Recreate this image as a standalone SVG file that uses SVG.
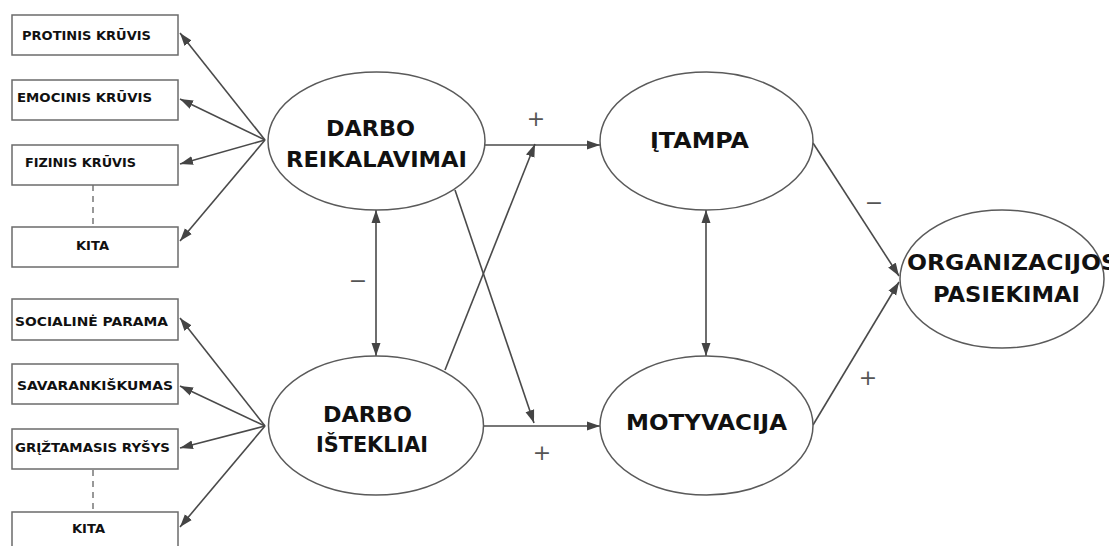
<svg xmlns="http://www.w3.org/2000/svg" width="1109" height="546" viewBox="0 0 1109 546">
<style>
.box{fill:#fff;stroke:#6b6b6b;stroke-width:1.5}
.ell{fill:#fff;stroke:#5a5a5a;stroke-width:1.5}
.bt{font-family:"DejaVu Sans","Liberation Sans",sans-serif;font-weight:bold;font-size:12.5px;fill:#111}
.et{font-family:"DejaVu Sans","Liberation Sans",sans-serif;font-weight:bold;font-size:22px;fill:#111}
.sg{font-family:"DejaVu Sans","Liberation Sans",sans-serif;font-size:22px;fill:#555;text-anchor:middle}
.ln{stroke:#4a4a4a;stroke-width:1.6;fill:none}
.ds{stroke:#777;stroke-width:1.5;stroke-dasharray:6,5;fill:none}
</style>
<defs>
<marker id="ah" markerUnits="userSpaceOnUse" markerWidth="14" markerHeight="10" refX="13" refY="5" orient="auto-start-reverse">
<path d="M0,0.5 L13,5 L0,9.5 z" fill="#444"/>
</marker>
</defs>
<rect width="1109" height="546" fill="#fff"/>

<g id="connectors">
<line class="ln" x1="265" y1="140" x2="180" y2="33" marker-end="url(#ah)"/>
<line class="ln" x1="265" y1="140" x2="180" y2="99" marker-end="url(#ah)"/>
<line class="ln" x1="265" y1="140" x2="180" y2="164" marker-end="url(#ah)"/>
<line class="ln" x1="265" y1="140" x2="180" y2="241" marker-end="url(#ah)"/>
<line class="ln" x1="265" y1="426" x2="180" y2="318" marker-end="url(#ah)"/>
<line class="ln" x1="265" y1="426" x2="180" y2="386" marker-end="url(#ah)"/>
<line class="ln" x1="265" y1="426" x2="180" y2="448" marker-end="url(#ah)"/>
<line class="ln" x1="265" y1="426" x2="180" y2="527" marker-end="url(#ah)"/>
<line class="ds" x1="93" y1="185" x2="93" y2="227"/>
<line class="ds" x1="93" y1="470" x2="93" y2="512"/>
<line class="ln" x1="485" y1="145" x2="600" y2="145" marker-end="url(#ah)"/>
<line class="ln" x1="483" y1="426" x2="600" y2="426" marker-end="url(#ah)"/>
<line class="ln" x1="445" y1="370" x2="535" y2="144" marker-end="url(#ah)"/>
<line class="ln" x1="455" y1="190" x2="534" y2="423" marker-end="url(#ah)"/>
<line class="ln" x1="376" y1="210" x2="376" y2="356" marker-start="url(#ah)" marker-end="url(#ah)"/>
<line class="ln" x1="706" y1="210" x2="706" y2="356" marker-start="url(#ah)" marker-end="url(#ah)"/>
<line class="ln" x1="813" y1="143" x2="899" y2="276" marker-end="url(#ah)"/>
<line class="ln" x1="813" y1="425" x2="899" y2="282" marker-end="url(#ah)"/>
<text class="sg" x="536" y="126">+</text>
<text class="sg" x="542" y="460">+</text>
<text class="sg" x="358" y="288">−</text>
<text class="sg" x="874" y="210">−</text>
<text class="sg" x="868" y="385">+</text>
</g>

<g id="protinis"><rect class="box" x="12" y="15" width="166" height="40"/><text class="bt" x="22" y="39.5" textLength="129" lengthAdjust="spacingAndGlyphs">PROTINIS KRŪVIS</text></g>
<g id="emocinis"><rect class="box" x="12" y="80" width="166" height="40"/><text class="bt" x="17" y="102" textLength="135" lengthAdjust="spacingAndGlyphs">EMOCINIS KRŪVIS</text></g>
<g id="fizinis"><rect class="box" x="12" y="145" width="166" height="40"/><text class="bt" x="25" y="167" textLength="111" lengthAdjust="spacingAndGlyphs">FIZINIS KRŪVIS</text></g>
<g id="kita1"><rect class="box" x="12" y="227" width="166" height="40"/><text class="bt" x="76" y="250" textLength="33" lengthAdjust="spacingAndGlyphs">KITA</text></g>
<g id="socialine"><rect class="box" x="12" y="299" width="166" height="41"/><text class="bt" x="15" y="326" textLength="153" lengthAdjust="spacingAndGlyphs">SOCIALINĖ PARAMA</text></g>
<g id="savarankiskumas"><rect class="box" x="12" y="364" width="166" height="40"/><text class="bt" x="17" y="390" textLength="156" lengthAdjust="spacingAndGlyphs">SAVARANKIŠKUMAS</text></g>
<g id="grizt"><rect class="box" x="12" y="429" width="166" height="40"/><text class="bt" x="15" y="452" textLength="155" lengthAdjust="spacingAndGlyphs">GRĮŽTAMASIS RYŠYS</text></g>
<g id="kita2"><rect class="box" x="12" y="512" width="166" height="42"/><text class="bt" x="72" y="533" textLength="33" lengthAdjust="spacingAndGlyphs">KITA</text></g>

<g id="darbo-reik"><ellipse class="ell" cx="376.5" cy="141" rx="108.5" ry="69"/><text class="et" x="326" y="136" textLength="89" lengthAdjust="spacingAndGlyphs">DARBO</text><text class="et" x="286" y="167" textLength="181" lengthAdjust="spacingAndGlyphs">REIKALAVIMAI</text></g>
<g id="darbo-ist"><ellipse class="ell" cx="376" cy="425.5" rx="107.5" ry="69.5"/><text class="et" x="323" y="422" textLength="89" lengthAdjust="spacingAndGlyphs">DARBO</text><text class="et" x="316" y="452" textLength="112" lengthAdjust="spacingAndGlyphs">IŠTEKLIAI</text></g>
<g id="itampa"><ellipse class="ell" cx="706.5" cy="141" rx="106.5" ry="69"/><text class="et" x="650" y="148" textLength="99" lengthAdjust="spacingAndGlyphs">ĮTAMPA</text></g>
<g id="motyvacija"><ellipse class="ell" cx="706.5" cy="425.5" rx="106.5" ry="69.5"/><text class="et" x="626" y="430" textLength="161" lengthAdjust="spacingAndGlyphs">MOTYVACIJA</text></g>
<g id="org"><ellipse class="ell" cx="1002" cy="279" rx="102" ry="69"/><text class="et" x="907" y="270" textLength="211" lengthAdjust="spacingAndGlyphs">ORGANIZACIJOS</text><text class="et" x="933" y="302" textLength="147" lengthAdjust="spacingAndGlyphs">PASIEKIMAI</text></g>
</svg>
